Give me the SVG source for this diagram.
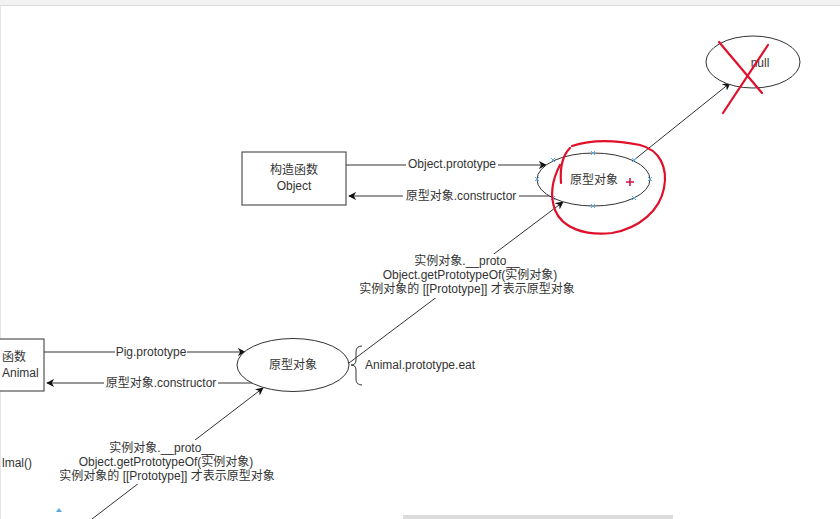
<svg xmlns="http://www.w3.org/2000/svg" width="840" height="519" viewBox="0 0 840 519">
<defs>
<style>
text{font-family:"Liberation Sans","Noto Sans CJK SC",sans-serif;font-size:12px;fill:#333}
.c{text-anchor:middle}
.n{fill:#fff;stroke:#333;stroke-width:1}
.e{fill:none;stroke:#333;stroke-width:1}
.lbl{fill:#fff;stroke:none}
.red{fill:none;stroke:#e0102a;stroke-width:2.2;stroke-linecap:round;stroke-linejoin:round}
.h{stroke:#5aa8dc;stroke-width:1}
</style>
<marker id="ah" viewBox="0 0 10 10" refX="9" refY="5" markerWidth="8" markerHeight="8" orient="auto" markerUnits="userSpaceOnUse">
<path d="M0,0 L10,5 L0,10 L3,5 Z" fill="#111"/>
</marker>
</defs>
<rect width="840" height="519" fill="#fff"/>
<rect x="0" y="0" width="840" height="5" fill="#f2f2f2"/>
<line x1="0" y1="5.5" x2="840" y2="5.5" stroke="#dcdcdc"/>
<line x1="0.5" y1="6" x2="0.5" y2="519" stroke="#e6e6e6"/>
<rect x="403" y="515" width="270" height="4" fill="#dcdcdc"/>

<g id="connectors">
<line class="e" x1="346" y1="165" x2="546" y2="165" marker-end="url(#ah)"/>
<line class="e" x1="553" y1="196" x2="349" y2="196" marker-end="url(#ah)"/>
<line class="e" x1="634" y1="160" x2="730" y2="83" marker-end="url(#ah)"/>
<line class="e" x1="349" y1="363" x2="563" y2="202" marker-end="url(#ah)"/>
<line class="e" x1="44" y1="352" x2="245" y2="352" marker-end="url(#ah)"/>
<line class="e" x1="262" y1="383" x2="47" y2="383" marker-end="url(#ah)"/>
<line class="e" x1="92" y1="519" x2="263" y2="388" marker-end="url(#ah)"/>
<rect class="lbl" x="406" y="157" width="92" height="14"/>
<text class="c" x="452" y="168">Object.prototype</text>
<rect class="lbl" x="403" y="189" width="116" height="14"/>
<text class="c" x="461" y="200">原型对象.constructor</text>
<rect class="lbl" x="115" y="345" width="72" height="14"/>
<text class="c" x="151" y="356">Pig.prototype</text>
<rect class="lbl" x="104" y="376" width="114" height="14"/>
<text class="c" x="161" y="387">原型对象.constructor</text>
<rect class="lbl" x="357" y="254" width="220" height="44"/>
<text class="c" x="467" y="265">实例对象.__proto__</text>
<text class="c" x="470" y="279">Object.getPrototypeOf(实例对象)</text>
<text class="c" x="467" y="293">实例对象的 [[Prototype]] 才表示原型对象</text>
<rect class="lbl" x="57" y="440" width="221" height="44"/>
<text class="c" x="162" y="452">实例对象.__proto__</text>
<text class="c" x="166" y="466">Object.getPrototypeOf(实例对象)</text>
<text class="c" x="167" y="480">实例对象的 [[Prototype]] 才表示原型对象</text>
</g>

<g id="ctor-object">
<rect class="n" x="242" y="152" width="104" height="53"/>
<text class="c" x="294" y="174">构造函数</text>
<text class="c" x="294" y="190">Object</text>
</g>

<g id="proto-object">
<ellipse class="n" cx="593.5" cy="179.5" rx="56.5" ry="26.5"/>
<text class="c" x="594" y="184">原型对象</text>
</g>

<g id="null">
<ellipse class="n" cx="753" cy="62" rx="47" ry="26"/>
<text class="c" x="760" y="67">null</text>
</g>

<g id="ctor-animal">
<rect class="n" x="-60" y="339" width="104" height="52"/>
<text x="2" y="361">函数</text>
<text x="2" y="377">Animal</text>
</g>

<g id="proto-animal">
<ellipse class="n" cx="293" cy="365" rx="56" ry="26.5"/>
<text class="c" x="293" y="369">原型对象</text>
</g>

<g id="animal-eat">
<path class="e" d="M362,346 Q356,346 356,352 L356,360 Q356,365 351,365 Q356,365 356,370 L356,379 Q356,385 362,385"/>
<text x="365" y="369">Animal.prototype.eat</text>
</g>

<g id="animal-call">
<text x="2" y="467">lmal()</text>
</g>

<g id="handles">
<path class="h" d="M551,158l4,4m0,-4l-4,4 M591,151l4,4m0,-4l-4,4 M632,158l4,4m0,-4l-4,4 M648,177l4,4m0,-4l-4,4 M632,196l4,4m0,-4l-4,4 M591,204l4,4m0,-4l-4,4 M551,196l4,4m0,-4l-4,4 M535,177l4,4m0,-4l-4,4"/>
<path d="M56,512 l3,-4 l3,4 z" fill="#5aa8dc"/>
</g>

<g id="annotations">
<path class="red" d="M561,183 C560,170 562,156 570,148"/>
<path class="red" d="M572,146 C590,140 615,140 640,145 C660,150 668,168 664,188 C660,210 640,228 612,233 C585,236 562,228 555,210 C550,196 552,180 560,165"/>
<path d="M626,182h8M630,178v8" stroke="#d01040" stroke-width="1.5"/>
<path class="red" d="M719,42 L762,93"/>
<path class="red" d="M768,45 L723,113"/>
</g>
</svg>
